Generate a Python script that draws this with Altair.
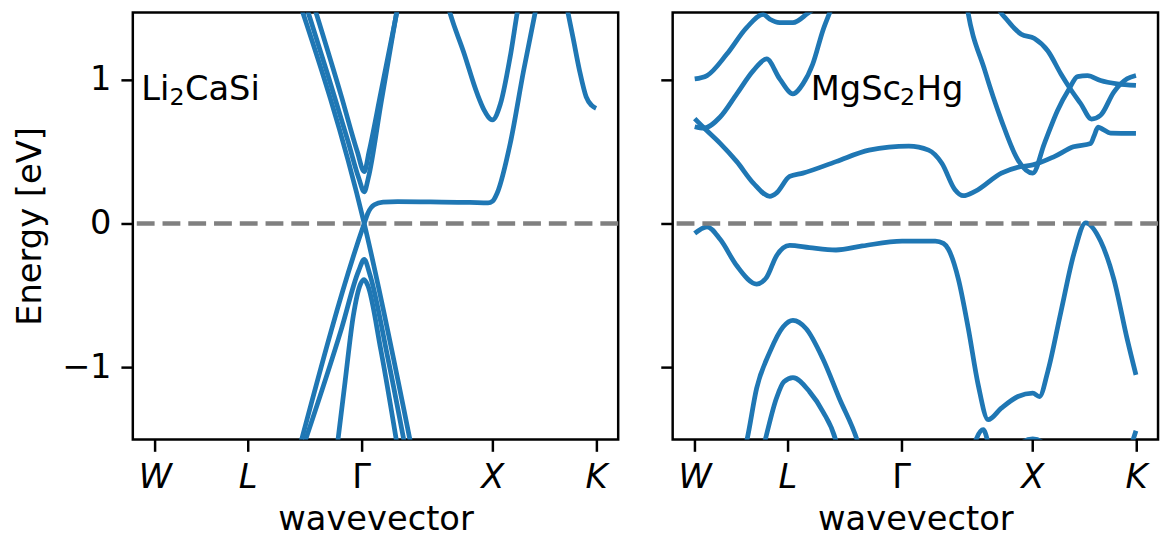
import altair as alt
import pandas as pd

# ---- axis ticks -------------------------------------------------------
K_TICKS = [0.0, 0.7071, 1.5731, 2.5731, 3.3637]
K_LABELS = ["W", "L", "Γ", "X", "K"]
E_TICKS = [-1, 0, 1]
X_DOMAIN = [-0.168, 3.532]
Y_DOMAIN = [-1.5, 1.466]

# ---- Li2CaSi bands (k, E) --------------------------------------------
li_band_1 = [(1.079, 1.6), (1.596, 0.0), (1.966, -1.6)]
li_band_2 = [(1.090, -1.6), (1.596, 0.0), (1.623, 0.07), (1.673, 0.13), (1.74, 0.148),
             (1.85, 0.152), (2.10, 0.15), (2.40, 0.147), (2.54, 0.143), (2.575, 0.155),
             (2.609, 0.21), (2.709, 0.556), (2.811, 1.062), (2.911, 1.52), (2.93, 1.61)]
li_band_3 = [(1.123, 1.6), (1.323, 1.02), (1.473, 0.57), (1.553, 0.32), (1.596, 0.22),
             (1.628, 0.32), (1.723, 0.83), (1.868, 1.6)]
li_band_4 = [(1.183, 1.6), (1.423, 0.88), (1.543, 0.50), (1.596, 0.36), (1.633, 0.50),
             (1.723, 0.91), (1.878, 1.62)]
li_band_5 = [(1.113, -1.6), (1.423, -0.73), (1.553, -0.33), (1.596, -0.25), (1.638, -0.35),
             (1.773, -0.92), (1.918, -1.6)]
li_band_6 = [(1.383, -1.6), (1.45, -1.1), (1.513, -0.64), (1.568, -0.42), (1.596, -0.39),
             (1.623, -0.43), (1.723, -0.88), (1.858, -1.6)]
li_band_7 = [(2.21, 1.6), (2.232, 1.52), (2.358, 1.18), (2.458, 0.90), (2.509, 0.79),
             (2.573, 0.72), (2.634, 0.83), (2.709, 1.16), (2.773, 1.52), (2.79, 1.6)]
li_band_8 = [(3.12, 1.6), (3.137, 1.52), (3.188, 1.29), (3.238, 1.06), (3.288, 0.88),
             (3.33, 0.82), (3.3637, 0.80)]

# ---- MgSc2Hg bands (k, E) --------------------------------------------
mg_band_1 = [(0.0, -0.069), (0.094, -0.023), (0.194, -0.110), (0.321, -0.294), (0.472, -0.421),
             (0.548, -0.374), (0.623, -0.225), (0.724, -0.152), (0.875, -0.168), (1.077, -0.184),
             (1.278, -0.156), (1.581, -0.122), (1.834, -0.122), (1.896, -0.138), (1.934, -0.179),
             (2.010, -0.386), (2.086, -0.731), (2.161, -1.121), (2.237, -1.363), (2.337, -1.283),
             (2.464, -1.202), (2.577, -1.179), (2.628, -1.202), (2.691, -1.03), (2.791, -0.616),
             (2.893, -0.202), (2.980, 0.005), (3.094, -0.122), (3.195, -0.386), (3.296, -0.8),
             (3.3637, -1.052)]
mg_band_2 = [(0.37, -1.6), (0.396, -1.512), (0.472, -1.145), (0.573, -0.892), (0.673, -0.719),
             (0.749, -0.673), (0.850, -0.731), (0.976, -0.938), (1.102, -1.214), (1.241, -1.512),
             (1.27, -1.6)]
mg_band_3 = [(0.51, -1.6), (0.535, -1.512), (0.623, -1.214), (0.68, -1.10), (0.749, -1.071),
             (0.875, -1.168), (0.976, -1.305), (1.077, -1.512), (1.10, -1.6)]
mg_band_4 = [(2.10, -1.62), (2.199, -1.432), (2.27, -1.62), (2.45, -1.7), (2.50, -1.52),
             (2.577, -1.497), (2.65, -1.52), (2.75, -1.7), (3.25, -1.7), (3.32, -1.56),
             (3.3637, -1.44)]
mg_band_5 = [(0.0, 0.729), (0.07, 0.665), (0.194, 0.557), (0.321, 0.43), (0.447, 0.281),
             (0.573, 0.189), (0.623, 0.212), (0.724, 0.327), (0.825, 0.35), (1.077, 0.43),
             (1.329, 0.51), (1.632, 0.538), (1.783, 0.51), (1.884, 0.419), (1.984, 0.235),
             (2.047, 0.193), (2.137, 0.223), (2.338, 0.35), (2.489, 0.396), (2.577, 0.407),
             (2.741, 0.465), (2.887, 0.533), (3.018, 0.556), (3.045, 0.61), (3.075, 0.67),
             (3.11, 0.655), (3.17, 0.628), (3.3637, 0.626)]
mg_band_6 = [(0.0, 0.672), (0.07, 0.662), (0.194, 0.74), (0.321, 0.901), (0.447, 1.062),
             (0.548, 1.143), (0.648, 1.005), (0.749, 0.901), (0.825, 0.97), (0.9, 1.108),
             (0.976, 1.338), (1.052, 1.522), (1.08, 1.6)]
mg_band_7 = [(0.0, 1.005), (0.094, 1.028), (0.245, 1.177), (0.396, 1.361), (0.522, 1.453),
             (0.573, 1.419), (0.648, 1.396), (0.749, 1.396), (0.85, 1.453), (0.926, 1.52),
             (0.95, 1.6)]
mg_band_8 = [(0.66, 1.6), (0.74, 1.485), (0.82, 1.6)]
mg_band_9 = [(2.06, 1.6), (2.073, 1.522), (2.212, 1.062), (2.338, 0.717), (2.464, 0.441),
             (2.577, 0.35), (2.666, 0.557), (2.766, 0.786), (2.855, 0.936), (2.918, 1.021),
             (2.994, 1.028), (3.094, 0.993), (3.22, 0.97), (3.3637, 0.959)]
mg_band_10 = [(2.27, 1.6), (2.30, 1.522), (2.388, 1.407), (2.489, 1.315), (2.59, 1.285),
              (2.691, 1.2), (2.792, 1.039), (2.855, 0.947), (2.943, 0.832), (3.025, 0.726),
              (3.094, 0.752), (3.195, 0.913), (3.296, 1.005), (3.3637, 1.028)]

li_bands = [li_band_1, li_band_2, li_band_3, li_band_4, li_band_5, li_band_6, li_band_7, li_band_8]
mg_bands = [mg_band_1, mg_band_2, mg_band_3, mg_band_4, mg_band_5, mg_band_6, mg_band_7,
            mg_band_8, mg_band_9, mg_band_10]

# compound names: (main, subscript, rest) and anchor (k, E)
LEFT_NAME = ["Li", "2", "CaSi"]
LEFT_ANCHOR = (-0.103, 0.859)
RIGHT_NAME = ["MgSc", "2", "Hg"]
RIGHT_ANCHOR = (0.885, 0.859)


def frame(bands):
    rows = []
    for i, b in enumerate(bands):
        for k, e in b:
            rows.append({"k": k, "E": e, "band": i})
    return pd.DataFrame(rows)


def label_expr():
    expr = "'" + K_LABELS[-1] + "'"
    for i in range(len(K_TICKS) - 2, -1, -1):
        mid = (K_TICKS[i] + K_TICKS[i + 1]) / 2
        expr = f"datum.value < {mid:.4f} ? '{K_LABELS[i]}' : ({expr})"
    return expr


FONT = "DejaVu Sans"
BLUE = "#1f77b4"

x_axis = alt.Axis(values=K_TICKS, labelExpr=label_expr(), labelFlush=False,
                  labelFontStyle={"condition": {"test": f"abs(datum.value - {K_TICKS[2]}) < 0.01",
                                                "value": "normal"}, "value": "italic"},
                  labelPadding=10, titlePadding=8)
y_expr = "datum.value < 0 ? '\u2212' + format(-datum.value, 'd') : format(datum.value, 'd')"
y_axis_left = alt.Axis(values=E_TICKS, labelExpr=y_expr, labelFlush=False, labelPadding=10,
                       titlePadding=14)
y_axis_right = alt.Axis(values=E_TICKS, labels=False, labelFlush=False)


def name_marks(parts, anchor, X, Y, main_dx):
    df = pd.DataFrame({"k": [anchor[0]], "E": [anchor[1]]})
    marks = []
    specs = [(parts[0], 0, 0, 34), (parts[1], main_dx[0], 5, 24), (parts[2], main_dx[1], 0, 34)]
    for txt, dx, dy, size in specs:
        marks.append(
            alt.Chart(df).mark_text(
                align="left", baseline="alphabetic", fontSize=size, font=FONT,
                color="black", dx=dx, dy=dy, text=txt
            ).encode(x=X, y=Y)
        )
    return marks


def panel(bands, parts, anchor, main_dx, y_axis, y_title):
    X = alt.X("k:Q", scale=alt.Scale(domain=X_DOMAIN, nice=False, zero=False), axis=x_axis,
              title="wavevector")
    Y = alt.Y("E:Q", scale=alt.Scale(domain=Y_DOMAIN, nice=False, zero=False), axis=y_axis,
              title=y_title)
    lines = alt.Chart(frame(bands)).mark_line(
        clip=True, color=BLUE, strokeWidth=4.8, interpolate="monotone"
    ).encode(x=X, y=Y, detail="band:N")
    rule = alt.Chart(pd.DataFrame({"E": [0.0]})).mark_rule(
        color="#808080", strokeDash=[18, 8], strokeWidth=4.5
    ).encode(y=Y)
    texts = name_marks(parts, anchor, X, Y, main_dx)
    return alt.layer(lines, rule, *texts).properties(width=490, height=431)


left = panel(li_bands, LEFT_NAME, LEFT_ANCHOR, (28.5, 44), y_axis_left, "Energy [eV]")
right = panel(mg_bands, RIGHT_NAME, RIGHT_ANCHOR, (90, 107), y_axis_right, None)

chart = alt.hconcat(left, right, spacing=36).properties(
    padding={"left": 4, "top": 0, "right": 0, "bottom": 0}
).configure_view(stroke="black", strokeWidth=2.5).configure_axis(
    labelFont=FONT, labelFontSize=34, labelColor="black",
    titleFont=FONT, titleFontSize=34, titleFontWeight="normal", titleColor="black",
    tickColor="black", tickWidth=2.5, tickSize=12, domain=False, grid=False
)

chart.save("out.html", embed_options={"renderer": "svg", "actions": False})
